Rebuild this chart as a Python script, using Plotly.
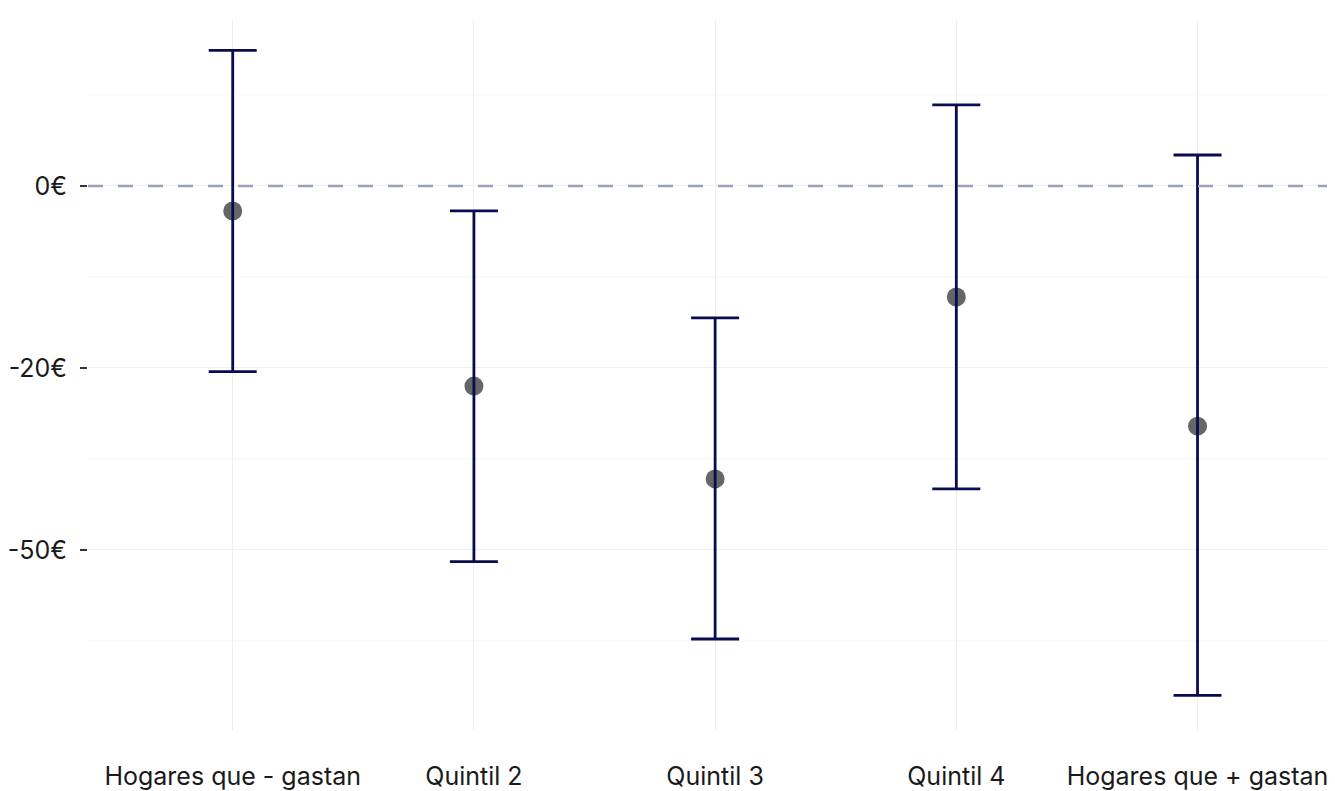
import plotly.graph_objects as go

categories = ["Hogares que - gastan", "Quintil 2", "Quintil 3", "Quintil 4", "Hogares que + gastan"]
estimate = [-2.75, -22.0, -32.2, -12.2, -26.4]
upper = [14.9, -2.75, -14.5, 8.9, 3.4]
lower = [-20.4, -41.3, -49.8, -33.3, -56.0]

tick_vals = [0, -20, -40]
tick_text = ["0€", "-20€", "-50€"]
minor_vals = [10, -10, -30, -50]

FONT = "Inter, Lato, sans-serif"
x_idx = list(range(len(categories)))

fig = go.Figure()

fig.add_trace(go.Scatter(
    x=x_idx, y=estimate, mode="markers",
    marker=dict(size=19, color="rgba(75,75,75,0.85)", line=dict(width=0)),
    showlegend=False, hoverinfo="skip"))

fig.add_trace(go.Scatter(
    x=x_idx, y=estimate, mode="markers",
    marker=dict(size=0.1, color="rgba(0,0,0,0)"),
    error_y=dict(type="data", symmetric=False,
                 array=[u - e for u, e in zip(upper, estimate)],
                 arrayminus=[e - l for e, l in zip(estimate, lower)],
                 color="#0b0b4f", thickness=2.8, width=24),
    showlegend=False))

fig.add_shape(type="line", xref="paper", x0=0, x1=1, yref="y", y0=0, y1=0,
              line=dict(color="#98a2b8", width=2.6, dash="15px,15px"), layer="above")

for v in minor_vals:
    fig.add_shape(type="line", xref="paper", x0=0, x1=1, yref="y", y0=v, y1=v,
                  line=dict(color="#f6f6f6", width=1), layer="below")

fig.update_layout(
    width=1327, height=783,
    margin=dict(l=80, r=0, t=12, b=61, autoexpand=False),
    plot_bgcolor="white", paper_bgcolor="white",
    font=dict(family=FONT, size=25, color="#1a1a1a"),
)
fig.update_xaxes(
    range=[-0.6, 4.57], tickmode="array", tickvals=x_idx, ticktext=categories,
    showgrid=True, gridcolor="#efefef", gridwidth=1, zeroline=False,
    ticks="outside", ticklen=0, ticklabelstandoff=24, automargin=False,
    tickfont=dict(size=25, family=FONT, color="#1a1a1a"), showline=False)
fig.update_yaxes(
    range=[-59.8, 18.24], tickmode="array", tickvals=tick_vals, ticktext=tick_text,
    showgrid=True, gridcolor="#efefef", gridwidth=1, zeroline=False,
    ticks="outside", ticklen=7, tickcolor="#333333", tickwidth=1.8,
    ticklabelstandoff=8, automargin=False,
    tickfont=dict(size=25, family=FONT, color="#1a1a1a"), showline=False)

fig.write_html("out.html")
